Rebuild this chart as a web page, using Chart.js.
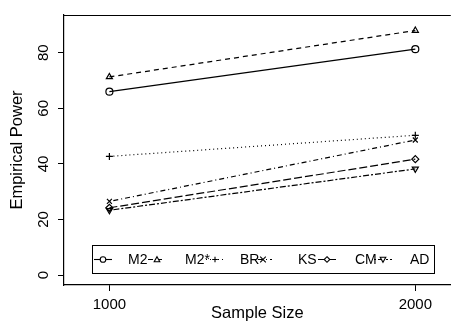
<!DOCTYPE html>
<html>
<head>
<meta charset="utf-8">
<script src="https://cdn.jsdelivr.net/npm/chart.js@4"></script>
<style>
  html, body { margin: 0; padding: 0; background: #fff; }
  #wrap { width: 456px; height: 323px; }
</style>
</head>
<body>
<div id="wrap"><canvas id="c" width="456" height="323"></canvas></div>
<script>
// sample sizes on x
const sizes = [1000, 2000];
const yTicks = [0, 20, 40, 60, 80];

// empirical power per test
const m2 = [66.0, 81.3];
const m2star = [71.3, 88.0];
const br = [42.7, 50.3];
const ks = [26.5, 48.6];
const cm = [24.2, 41.7];
const ad = [23.3, 38.2];

const names = ["M2", "M2*", "BR", "KS", "CM", "AD"];
const series = [m2, m2star, br, ks, cm, ad];
const dashes = [[], [5, 4], [1, 3], [1, 3, 5, 3], [8, 3], [2, 2, 6, 2]];
const shapes = ["circle", "triangle", "cross", "crossRot", "rectRot", "triangle"];
const rot = [0, 0, 0, 0, 0, 180];

const font = "Liberation Sans, Arial, sans-serif";

const datasets = series.map(function (vals, i) {
  return {
    label: names[i],
    data: sizes.map(function (s, j) { return { x: s, y: vals[j] }; }),
    borderColor: "#000",
    borderWidth: 1.2,
    borderDash: dashes[i],
    pointStyle: shapes[i],
    pointRotation: rot[i],
    pointRadius: 3.5,
    pointBorderWidth: 1.2,
    pointBorderColor: "#000",
    pointBackgroundColor: "rgba(0,0,0,0)",
    fill: false,
    tension: 0
  };
});

// top border + legend box like R
const extras = {
  id: "extras",
  afterDraw(chart) {
    const ctx = chart.ctx;
    const a = chart.chartArea;
    ctx.save();
    ctx.strokeStyle = "#000";
    ctx.lineWidth = 1.2;
    ctx.beginPath();
    ctx.moveTo(a.left, a.top + 0.5);
    ctx.lineTo(a.right, a.top + 0.5);
    ctx.stroke();

    // legend
    const lx = 92, ly = 245, lw = 342, lh = 28;
    ctx.lineWidth = 1;
    ctx.strokeRect(lx + 0.5, ly + 0.5, lw, lh);
    const symX = [103, 157, 215, 263, 327, 383];
    const txtX = [128, 185, 240, 298, 355, 410];
    const cy = ly + lh / 2 + 0.5;
    ctx.font = "14px " + font;
    ctx.fillStyle = "#000";
    ctx.textBaseline = "middle";
    ctx.textAlign = "left";
    for (let i = 0; i < names.length; i++) {
      const sx = symX[i];
      ctx.setLineDash(dashes[i]);
      ctx.lineWidth = 1.1;
      ctx.beginPath();
      ctx.moveTo(sx - 9, cy);
      ctx.lineTo(sx + 9, cy);
      ctx.stroke();
      ctx.setLineDash([]);
      drawSym(ctx, shapes[i], rot[i], sx, cy, 2.8);
      ctx.fillText(names[i], txtX[i], cy + 1);
    }
    ctx.restore();
  }
};

function drawSym(ctx, shape, r, x, y, s) {
  ctx.beginPath();
  if (shape === "circle") {
    ctx.fillStyle = "#fff";
    ctx.arc(x, y, s, 0, Math.PI * 2);
    ctx.fill();
    ctx.stroke();
  } else if (shape === "triangle") {
    const d = r ? -1 : 1;
    ctx.fillStyle = "#fff";
    ctx.moveTo(x, y - d * s);
    ctx.lineTo(x + s, y + d * s * 0.8);
    ctx.lineTo(x - s, y + d * s * 0.8);
    ctx.closePath();
    ctx.fill();
    ctx.stroke();
  } else if (shape === "cross") {
    ctx.moveTo(x - s, y); ctx.lineTo(x + s, y);
    ctx.moveTo(x, y - s); ctx.lineTo(x, y + s);
    ctx.stroke();
  } else if (shape === "crossRot") {
    ctx.moveTo(x - s, y - s); ctx.lineTo(x + s, y + s);
    ctx.moveTo(x + s, y - s); ctx.lineTo(x - s, y + s);
    ctx.stroke();
  } else if (shape === "rectRot") {
    ctx.fillStyle = "#fff";
    ctx.moveTo(x, y - s); ctx.lineTo(x + s, y);
    ctx.lineTo(x, y + s); ctx.lineTo(x - s, y);
    ctx.closePath();
    ctx.fill();
    ctx.stroke();
  }
  ctx.fillStyle = "#000";
}

new Chart("c", {
  type: "line",
  data: { datasets: datasets },
  plugins: [extras],
  options: {
    responsive: false,
    animation: false,
    layout: { padding: { top: 7, right: 0, left: 0, bottom: 0 } },
    plugins: { legend: { display: false }, tooltip: { enabled: false } },
    scales: {
      x: {
        type: "linear",
        min: 851.6,
        max: 2116,
        afterBuildTicks: function (s) { s.ticks = sizes.map(function (v) { return { value: v }; }); },
        afterFit: function (s) { s.height = 38; },
        ticks: { color: "#000", font: { family: font, size: 15 }, padding: 5, maxRotation: 0,
          callback: function (v) { return String(v); } },
        grid: { display: true, drawOnChartArea: false, drawTicks: true, tickLength: 6, color: "#000", lineWidth: 1 },
        border: { display: true, color: "#000", width: 1.2 },
        title: { display: true, text: "Sample Size", color: "#000", font: { family: font, size: 16.5 }, padding: { top: 0, bottom: 0 } }
      },
      y: {
        min: -3.6,
        max: 93.6,
        afterBuildTicks: function (s) { s.ticks = yTicks.map(function (v) { return { value: v }; }); },
        afterFit: function (s) { s.width = 64; },
        ticks: { color: "#000", font: { family: font, size: 15 }, padding: 6, minRotation: 90, maxRotation: 90, crossAlign: "center" },
        grid: { display: true, drawOnChartArea: false, drawTicks: true, tickLength: 6, color: "#000", lineWidth: 1 },
        border: { display: true, color: "#000", width: 1.2 },
        title: { display: true, text: "Empirical Power", color: "#000", font: { family: font, size: 16.5 }, padding: { top: 8, bottom: 0 } }
      }
    }
  }
});
</script>
</body>
</html>
